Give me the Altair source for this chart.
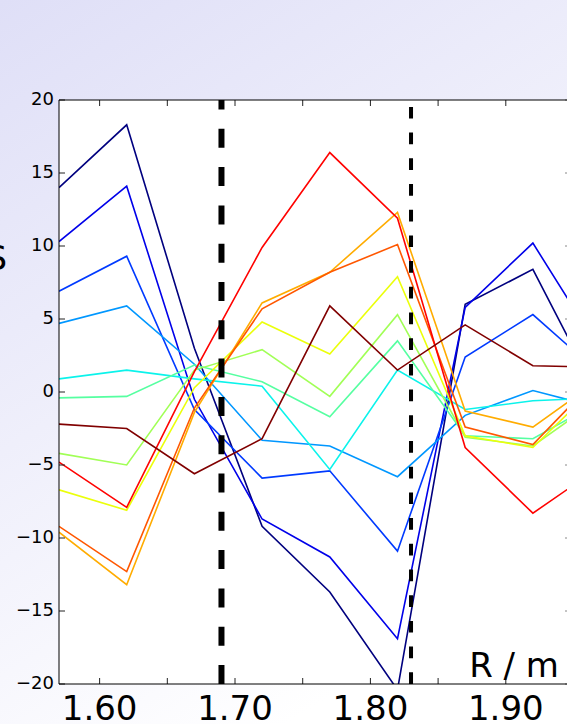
import altair as alt
import pandas as pd

# ---- data ----
R = [1.57, 1.62, 1.67, 1.72, 1.77, 1.82, 1.87, 1.92, 1.97]

s01 = [14.0, 18.3, 3.0, -9.2, -13.7, -20.4, 6.0, 8.4, -0.6]
s02 = [10.3, 14.1, -0.5, -8.7, -11.3, -16.9, 5.8, 10.2, 2.8]
s03 = [6.9, 9.3, -1.2, -5.9, -5.4, -10.9, 2.4, 5.3, 1.2]
s04 = [4.7, 5.9, 1.9, -3.3, -3.7, -5.8, -1.6, 0.1, -1.1]
s05 = [0.9, 1.5, 0.9, 0.4, -5.3, 1.5, -1.2, -0.6, -0.4]
s06 = [-0.4, -0.3, 1.85, 0.7, -1.7, 3.5, -3.0, -3.2, -0.6]
s07 = [-4.2, -5.0, 1.5, 2.9, -0.3, 5.3, -3.1, -3.7, -0.4]
s08 = [-6.7, -8.1, 0.3, 4.8, 2.6, 7.9, -3.0, -3.8, 0.7]
s09 = [-9.6, -13.2, -1.4, 6.1, 8.2, 12.3, -1.3, -2.4, 0.9]
s10 = [-9.2, -12.3, -1.1, 5.7, 8.2, 10.1, -2.4, -3.6, 1.2]
s11 = [-4.8, -7.9, 1.4, 9.9, 16.4, 11.9, -3.8, -8.3, -5.1]
s12 = [-2.2, -2.5, -5.6, -3.2, 5.9, 1.5, 4.6, 1.8, 1.7]

series_values = [s01, s02, s03, s04, s05, s06, s07, s08, s09, s10, s11, s12]
series_names = ["s%02d" % (i + 1) for i in range(len(series_values))]
series_colors = ["#00007f", "#0000e9", "#003aff", "#0097ff", "#0bf3eb", "#56ffa1",
                 "#a1ff56", "#ebff0b", "#ffac00", "#ff5700", "#ff0200", "#800000"]

x_ticks = [1.60, 1.65, 1.70, 1.75, 1.80, 1.85, 1.90]
x_labels = [1.60, 1.70, 1.80, 1.90]
y_ticks = [-20, -15, -10, -5, 0, 5, 10, 15, 20]
thick_marker = [1.69]
thin_marker = [1.83]

x_domain = [1.57, 1.9452]
y_domain = [-20, 20]

# ---- layout ----
W, H = 508, 584
PAD = {"left": 59, "top": 100, "right": 0, "bottom": 40}
FONT = "DejaVu Sans"

rows = []
for name, vals in zip(series_names, series_values):
    for r, v in zip(R, vals):
        rows.append({"series": name, "R": r, "v": v})
df = pd.DataFrame(rows)

xs = alt.Scale(domain=x_domain, nice=False, zero=False)
ys = alt.Scale(domain=y_domain, nice=False, zero=False)
one = pd.DataFrame({"k": [0]})

bg = alt.Chart(one).mark_rect(
    fill=alt.LinearGradient(
        gradient="linear",
        stops=[alt.GradientStop(offset=0, color="#dfdff7"),
               alt.GradientStop(offset=1, color="#ffffff")],
        x1=0, y1=0, x2=0.5, y2=1),
    strokeWidth=0,
).encode(x=alt.value(-PAD["left"]), x2=alt.value(W + 10),
         y=alt.value(-PAD["top"]), y2=alt.value(H + PAD["bottom"]))

plotbg = alt.Chart(one).mark_rect(fill="white", strokeWidth=0).encode(
    x=alt.value(0), x2=alt.value(W + 10), y=alt.value(0), y2=alt.value(H))

lines = alt.Chart(df).mark_line(strokeWidth=1.6, clip=True).encode(
    x=alt.X("R:Q", scale=xs, axis=None),
    y=alt.Y("v:Q", scale=ys, axis=None),
    color=alt.Color("series:N", scale=alt.Scale(domain=series_names, range=series_colors),
                    legend=None),
)

dash_thick = alt.Chart(pd.DataFrame({"m": thick_marker})).mark_rule(
    color="black", strokeWidth=6, strokeDash=[19, 19.3]).encode(
    x=alt.X("m:Q", scale=xs, axis=None), y=alt.value(H), y2=alt.value(0))

dash_thin = alt.Chart(pd.DataFrame({"m": thin_marker})).mark_rule(
    color="black", strokeWidth=4, strokeDash=[11.7, 14]).encode(
    x=alt.X("m:Q", scale=xs, axis=None), y=alt.value(H), y2=alt.value(0))

xt = alt.Chart(pd.DataFrame({"t": x_ticks}))
yt = alt.Chart(pd.DataFrame({"t": y_ticks}))
tick_style = dict(color="#222222", strokeWidth=1)
xt_bottom = xt.mark_rule(**tick_style).encode(
    x=alt.X("t:Q", scale=xs, axis=None), y=alt.value(H), y2=alt.value(H - 6))
xt_top = xt.mark_rule(**tick_style).encode(
    x=alt.X("t:Q", scale=xs, axis=None), y=alt.value(0), y2=alt.value(6))
yt_left = yt.mark_rule(**tick_style).encode(
    y=alt.Y("t:Q", scale=ys, axis=None), x=alt.value(0), x2=alt.value(6))
yt_right = yt.mark_rule(color="#888888", strokeWidth=1).encode(
    y=alt.Y("t:Q", scale=ys, axis=None), x=alt.value(W - 2), x2=alt.value(W + 4))

frame = alt.Chart(one)
top_frame = frame.mark_rule(color="black", strokeWidth=1).encode(
    x=alt.value(0), x2=alt.value(W + 10), y=alt.value(0))
bottom_frame = frame.mark_rule(color="black", strokeWidth=1).encode(
    x=alt.value(0), x2=alt.value(W + 10), y=alt.value(H))
left_frame = frame.mark_rule(color="black", strokeWidth=1).encode(
    x=alt.value(0), y=alt.value(0), y2=alt.value(H))

xlab_df = pd.DataFrame({"t": x_labels, "lab": ["%.2f" % v for v in x_labels]})
ylab_df = pd.DataFrame({"t": y_ticks, "lab": [str(v).replace("-", "\u2212") for v in y_ticks]})

x_tick_labels = alt.Chart(xlab_df).mark_text(
    font=FONT, fontSize=34, baseline="top", align="center", color="black").encode(
    x=alt.X("t:Q", scale=xs, axis=None), y=alt.value(H + 9), text="lab:N")

y_tick_labels = alt.Chart(ylab_df).mark_text(
    font=FONT, fontSize=18, baseline="middle", align="right", color="black").encode(
    y=alt.Y("t:Q", scale=ys, axis=None), x=alt.value(-5), text="lab:N")

r_label = alt.Chart(one).mark_text(
    text="R / m", font=FONT, fontSize=34, align="right", baseline="alphabetic",
    color="black").encode(x=alt.value(500), y=alt.value(577))

y_title_fragment = alt.Chart(one).mark_text(
    text="S", font=FONT, fontSize=34, align="right", baseline="middle",
    color="black").encode(x=alt.value(-52), y=alt.value(160))

chart = alt.layer(
    bg, plotbg, lines, dash_thick, dash_thin,
    xt_bottom, xt_top, yt_left, yt_right, top_frame, bottom_frame, left_frame,
    x_tick_labels, y_tick_labels, r_label, y_title_fragment
).properties(
    width=W, height=H,
    autosize=alt.AutoSizeParams(type="none"),
    padding=PAD,
).configure_view(stroke="transparent").configure(background="white")

chart.save("out.html", embed_options={"renderer": "svg", "actions": False})
